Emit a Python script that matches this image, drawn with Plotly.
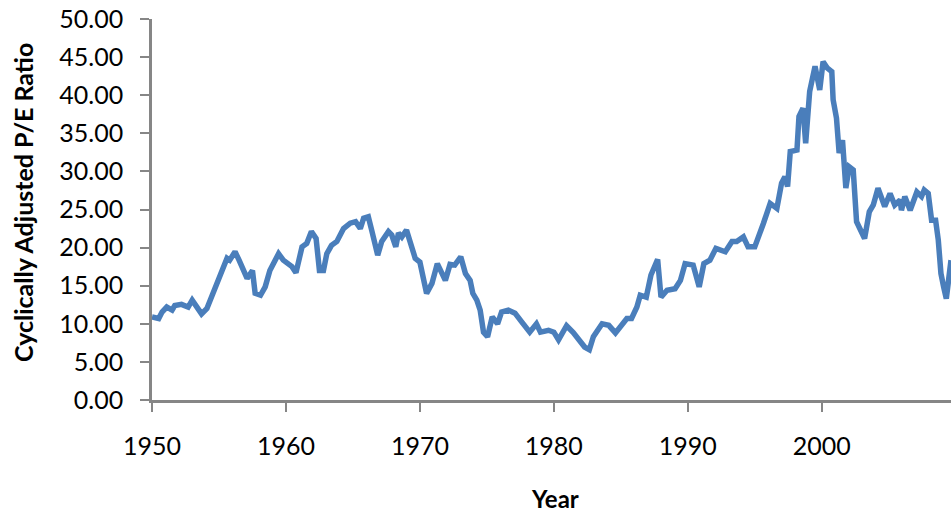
import plotly.graph_objects as go

years = [1950.0, 1950.5, 1950.75, 1951.1, 1951.5, 1951.7, 1952.2, 1952.7, 1953.0, 1953.2,
         1953.7, 1954.1, 1954.6, 1955.1, 1955.3, 1955.6, 1955.8, 1956.2, 1956.5, 1956.8,
         1957.1, 1957.5, 1957.7, 1958.1, 1958.45, 1958.8, 1959.1, 1959.45, 1959.8, 1960.2,
         1960.45, 1960.75, 1961.2, 1961.55, 1961.9, 1962.25, 1962.5, 1962.8, 1963.05, 1963.4,
         1963.8, 1964.3, 1964.8, 1965.2, 1965.55, 1965.8, 1966.15, 1966.4, 1966.85, 1967.15,
         1967.65, 1967.9, 1968.2, 1968.4, 1968.65, 1969.0, 1969.3, 1969.65, 1970.0, 1970.25,
         1970.5, 1970.9, 1971.3, 1971.9, 1972.25, 1972.6, 1973.05, 1973.4, 1973.75, 1973.95,
         1974.25, 1974.5, 1974.75, 1975.05, 1975.4, 1975.8, 1976.1, 1976.6, 1977.1, 1977.6,
         1978.2, 1978.7, 1979.0, 1979.6, 1980.0, 1980.35, 1980.95, 1981.45, 1981.95, 1982.3,
         1982.65, 1982.95, 1983.6, 1984.1, 1984.6, 1985.1, 1985.45, 1985.8, 1986.2, 1986.45,
         1986.9, 1987.25, 1987.75, 1988.0, 1988.45, 1989.05, 1989.45, 1989.8, 1990.4, 1990.85,
         1991.2, 1991.65, 1992.1, 1992.8, 1993.3, 1993.65, 1994.15, 1994.5, 1995.0, 1995.65,
         1996.15, 1996.65, 1997.0, 1997.25, 1997.45, 1997.65, 1998.15, 1998.3, 1998.6, 1998.8,
         1999.1, 1999.5, 1999.85, 2000.1, 2000.4, 2000.75, 2000.85, 2001.1, 2001.3, 2001.55,
         2001.8, 2002.05, 2002.35, 2002.6, 2002.9, 2003.2, 2003.55, 2003.85, 2004.2, 2004.7,
         2005.1, 2005.45, 2005.85, 2005.95, 2006.2, 2006.6, 2007.1, 2007.45, 2007.65, 2007.95,
         2008.2, 2008.5, 2008.7, 2008.9, 2009.1, 2009.3, 2009.65]

cape = [10.9, 10.7, 11.55, 12.2, 11.8, 12.4, 12.55, 12.2, 13.1, 12.65,
        11.3, 12.0, 14.2, 16.2, 16.8, 18.6, 18.35, 19.45, 18.35, 17.3,
        15.95, 17.0, 14.0, 13.75, 14.85, 17.0, 18.1, 19.2, 18.35, 17.9,
        17.5, 16.7, 20.1, 20.55, 22.1, 21.2, 17.0, 17.0, 19.2, 20.3,
        20.8, 22.5, 23.2, 23.4, 22.5, 23.85, 24.05, 22.3, 19.0, 20.8,
        22.1, 21.65, 20.1, 21.9, 21.4, 22.3, 20.8, 18.6, 18.1, 16.2,
        14.0, 15.3, 17.9, 15.7, 17.8, 17.7, 18.8, 16.6, 15.7, 14.0,
        13.1, 11.8, 8.9, 8.3, 10.9, 10.0, 11.55, 11.8, 11.4, 10.25,
        8.9, 10.0, 8.9, 9.15, 8.9, 7.9, 9.75, 8.85, 7.6, 6.95,
        6.6, 8.3, 10.0, 9.8, 8.8, 9.8, 10.7, 10.7, 12.2, 13.75,
        13.5, 16.4, 18.45, 13.5, 14.4, 14.6, 15.7, 17.9, 17.7, 14.85,
        17.9, 18.35, 19.9, 19.45, 20.8, 20.8, 21.4, 20.1, 20.1, 23.2,
        25.8, 25.15, 28.45, 29.3, 28.0, 32.6, 32.8, 37.2, 38.3, 33.7,
        40.5, 43.8, 40.7, 44.4, 43.6, 43.1, 39.4, 37.0, 32.4, 34.1,
        27.8, 30.6, 30.2, 23.4, 22.1, 21.2, 24.7, 25.6, 27.8, 25.4,
        27.1, 25.6, 26.25, 24.9, 26.7, 24.9, 27.3, 26.7, 27.55, 27.1,
        23.6, 23.6, 21.0, 16.6, 14.85, 13.3, 18.35]

x_ticks = [1950, 1960, 1970, 1980, 1990, 2000]
y_ticks = [0, 5, 10, 15, 20, 25, 30, 35, 40, 45, 50]

FONT = "Lato"
AXIS_COLOR = "#868686"

W, H = 951, 513
ML, MT, MB = 152, 19, 113
PW, PH = W - ML, H - MT - MB

fig = go.Figure()
fig.add_trace(go.Scatter(
    x=years, y=cape, mode="lines",
    line=dict(color="#4A7EBB", width=5.5, shape="linear"),
    hoverinfo="x+y", showlegend=False,
))

fig.update_layout(
    width=W, height=H,
    margin=dict(l=ML, r=0, t=MT, b=MB, pad=0),
    paper_bgcolor="white", plot_bgcolor="white",
    font=dict(family=FONT, size=25, color="#000000"),
    xaxis=dict(
        range=[1950, 2009.65], tickvals=x_ticks, ticktext=[str(t) for t in x_ticks],
        showgrid=False, zeroline=False, showline=True, linecolor=AXIS_COLOR, linewidth=2.5,
        ticks="outside", ticklen=9, tickwidth=2, tickcolor=AXIS_COLOR,
        ticklabelstandoff=13, tickfont=dict(family=FONT, size=25),
    ),
    yaxis=dict(
        range=[0, 50], tickvals=y_ticks, tickformat=".2f",
        showgrid=False, zeroline=False, showline=True, linecolor=AXIS_COLOR, linewidth=2.5,
        ticks="outside", ticklen=9, tickwidth=2, tickcolor=AXIS_COLOR,
        ticklabelstandoff=12, tickfont=dict(family=FONT, size=25),
    ),
    annotations=[
        dict(text="<b>Year</b>", xref="paper", yref="paper",
             x=(555 - ML) / PW, y=-(498 - (MT + PH)) / PH, xanchor="center", yanchor="middle",
             showarrow=False, font=dict(family=FONT, size=24)),
        dict(text="<b>Cyclically Adjusted P/E Ratio</b>", xref="paper", yref="paper",
             x=(23 - ML) / PW, y=((MT + PH) - 203) / PH, xanchor="center", yanchor="middle",
             textangle=-90, showarrow=False, font=dict(family=FONT, size=25)),
    ],
)

fig.write_html(
    "out.html",
    config={"displayModeBar": False},
    post_script="document.body.style.margin='0';document.body.style.overflow='hidden';",
)
